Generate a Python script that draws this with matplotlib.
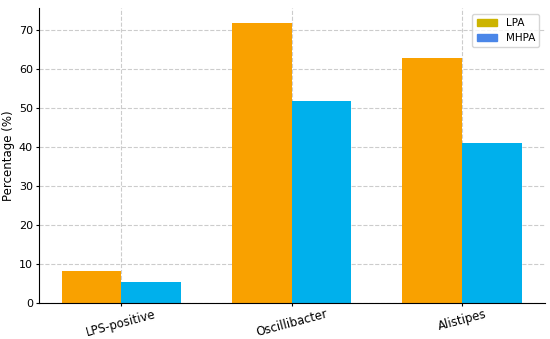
import numpy as np
import matplotlib
matplotlib.use('Agg')
import matplotlib.pyplot as plt
from matplotlib.patches import Patch

categories = ['LPS-positive', 'Oscillibacter', 'Alistipes']
lpa = [8.3, 72, 63]
mhpa = [5.5, 52, 41]

x = np.arange(len(categories))
width = 0.35

fig, ax = plt.subplots(figsize=(5.5, 3.39), dpi=100)
ax.bar(x - width/2, lpa, width, color='#f9a100', label='LPA')
ax.bar(x + width/2, mhpa, width, color='#00b0ec', label='MHPA')

ax.set_ylabel('Percentage (%)', fontsize=8.5, labelpad=3)
ax.set_xticks(x)
ax.set_xticklabels(categories, rotation=15, fontsize=8.5)
ax.tick_params(axis='x', length=2, pad=1)
ax.tick_params(axis='y', labelsize=8, length=2, pad=2)
ax.grid(True, linestyle='--', color='#cccccc', linewidth=0.8)
ax.set_axisbelow(True)
ax.spines['top'].set_visible(False)
ax.spines['right'].set_visible(False)

handles = [Patch(color='#ccb400', label='LPA'), Patch(color='#4a86e8', label='MHPA')]
ax.legend(handles=handles, loc='upper right', fontsize=7.5)

fig.subplots_adjust(left=0.07, right=0.99, top=0.975, bottom=0.105)
fig.savefig('out.png')
